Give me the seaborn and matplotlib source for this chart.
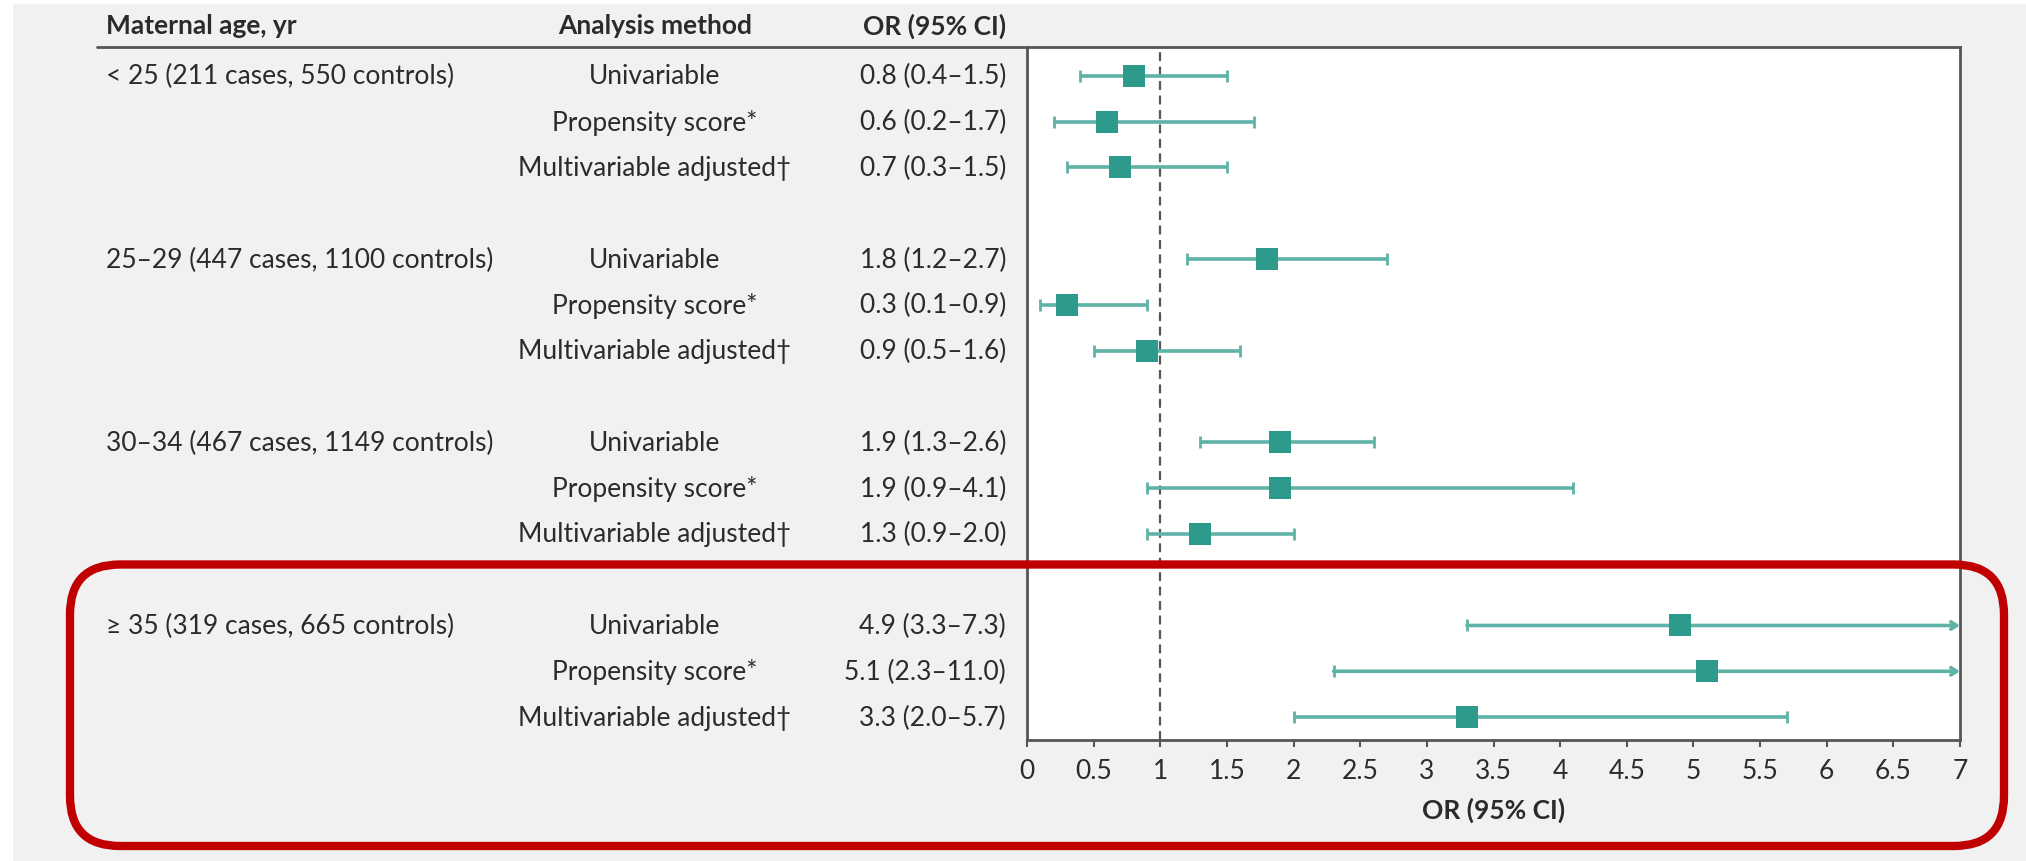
import numpy as np
import pandas as pd
import seaborn as sns
import matplotlib.pyplot as plt
from matplotlib.patches import FancyBboxPatch, Rectangle
from matplotlib.transforms import blended_transform_factory

grupos = ['< 25 (211 cases, 550 controls)', '25–29 (447 cases, 1100 controls)',
          '30–34 (467 cases, 1149 controls)', '≥ 35 (319 cases, 665 controls)']
metodos = ['Univariable', 'Propensity score*', 'Multivariable adjusted†']
odds = [0.8, 0.6, 0.7, 1.8, 0.3, 0.9, 1.9, 1.9, 1.3, 4.9, 5.1, 3.3]
ic_inf = [0.4, 0.2, 0.3, 1.2, 0.1, 0.5, 1.3, 0.9, 0.9, 3.3, 2.3, 2.0]
ic_sup = [1.5, 1.7, 1.5, 2.7, 0.9, 1.6, 2.6, 4.1, 2.0, 7.3, 11.0, 5.7]
ticks_x = np.arange(0, 7.01, 0.5)

df = pd.DataFrame({
    'grupo': np.repeat(grupos, 3),
    'metodo': metodos * 4,
    'OR': odds, 'inf': ic_inf, 'sup': ic_sup,
})
# uma linha em branco entre cada grupo
df['pos'] = [g * 4 + k for g in range(4) for k in range(3)]

sns.set_theme(style='white')
plt.rcParams['font.family'] = ['Lato', 'DejaVu Sans']

cor_texto = '#2b2b2b'
cor_ponto = '#2e9a8c'
cor_linha = '#5fb2a6'
xmax = 7

fig = plt.figure(figsize=(20.26, 8.62), dpi=100)
fig.patch.set_facecolor('#f1f1f1')
fig.patches.append(Rectangle((0, 0), 13 / 2026, 1, transform=fig.transFigure,
                             facecolor='white', edgecolor='none', zorder=0))
fig.patches.append(Rectangle((0, 1 - 5 / 862), 1, 5 / 862, transform=fig.transFigure,
                             facecolor='white', edgecolor='none', zorder=0))

ax = fig.add_axes([1027 / 2026, 1 - 741 / 862, 933 / 2026, 693 / 862])
ax.set_facecolor('white')

ax.axvline(1, color='#555555', lw=1.6, linestyle=(0, (4, 2.5)), zorder=1)

for _, r in df.iterrows():
    fim = min(r['sup'], xmax)
    if r['sup'] > xmax:
        ax.annotate('', xy=(xmax, r['pos']), xytext=(r['inf'], r['pos']),
                    arrowprops=dict(arrowstyle='->,head_length=0.35,head_width=0.22',
                                    color=cor_linha, lw=2.6, shrinkA=0, shrinkB=0),
                    annotation_clip=False, zorder=2)
    else:
        ax.hlines(r['pos'], r['inf'], fim, color=cor_linha, lw=2.6, zorder=2)
        ax.plot(fim, r['pos'], marker='|', ms=9, mew=2, color=cor_linha, zorder=2)
    ax.plot(r['inf'], r['pos'], marker='|', ms=9, mew=2, color=cor_linha, zorder=2)

sns.scatterplot(data=df, x='OR', y='pos', marker='s', s=230, color=cor_ponto,
                linewidth=0, zorder=3, ax=ax, legend=False)

ax.set_xlim(0, xmax)
ax.set_ylim(14.5, -0.63)
ax.set_xticks(ticks_x)
ax.set_xticklabels([f'{t:g}' for t in ticks_x])
ax.set_yticks([])
ax.tick_params(axis='x', direction='out', length=5, width=1.5, color='#555555',
               labelsize=19, labelcolor=cor_texto, pad=8, bottom=True)
for s in ax.spines.values():
    s.set_color('#555555')
    s.set_linewidth(2)
ax.set_xlabel('OR (95% CI)', fontsize=19, fontweight='bold', color=cor_texto, labelpad=10)
ax.set_ylabel('')

trans = blended_transform_factory(fig.transFigure, ax.transData)
for _, r in df.iterrows():
    if r['metodo'] == metodos[0]:
        ax.text(106 / 2026, r['pos'], r['grupo'], transform=trans, ha='left', va='center',
                fontsize=19, color=cor_texto, clip_on=False)
    ax.text(655 / 2026, r['pos'], r['metodo'], transform=trans, ha='center', va='center',
            fontsize=19, color=cor_texto, clip_on=False)
    ax.text(1006 / 2026, r['pos'], f"{r['OR']:.1f} ({r['inf']:.1f}–{r['sup']:.1f})",
            transform=trans, ha='right', va='center', fontsize=19, color=cor_texto, clip_on=False)

# cabeçalho
y_cab = 1 - 26 / 862
fig.text(106 / 2026, y_cab, 'Maternal age, yr', ha='left', va='center', fontsize=19,
         fontweight='bold', color=cor_texto)
fig.text(655 / 2026, y_cab, 'Analysis method', ha='center', va='center', fontsize=19,
         fontweight='bold', color=cor_texto)
fig.text(1006 / 2026, y_cab, 'OR (95% CI)', ha='right', va='center', fontsize=19,
         fontweight='bold', color=cor_texto)
fig.add_artist(plt.Line2D([97 / 2026, 1027 / 2026], [1 - 48 / 862, 1 - 48 / 862],
                          transform=fig.transFigure, color='#555555', lw=2))

# destaque vermelho (em polegadas para o canto ficar redondo)
caixa = FancyBboxPatch((0.70, 0.15), 19.34, 2.815,
                       boxstyle='round,pad=0,rounding_size=0.5',
                       transform=fig.dpi_scale_trans, facecolor='none',
                       edgecolor='#c00000', lw=6, zorder=5)
fig.patches.append(caixa)

plt.savefig('out.png', dpi=100, facecolor=fig.get_facecolor())
